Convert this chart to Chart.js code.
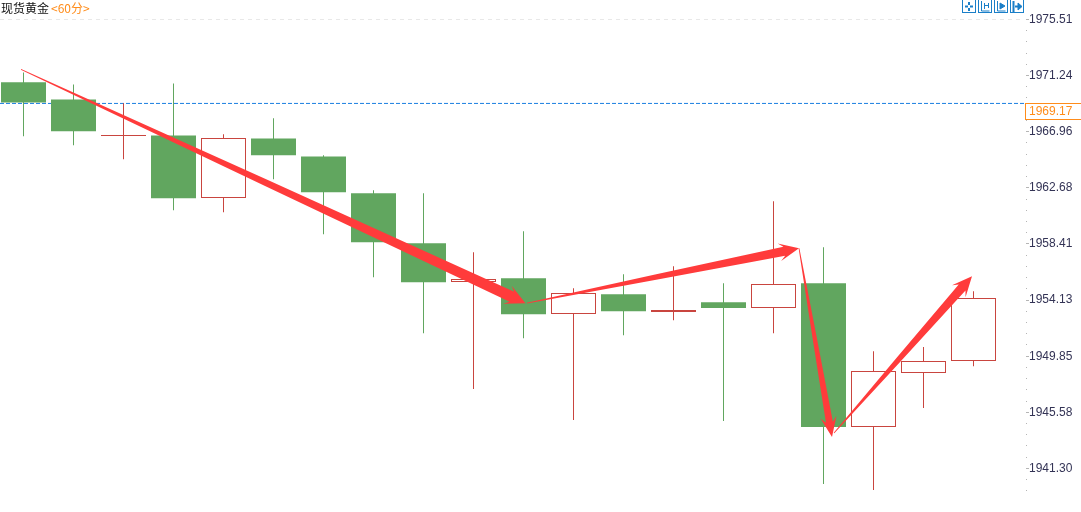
<!DOCTYPE html>
<html>
<head>
<meta charset="utf-8">
<title>现货黄金</title>
<script src="https://cdn.jsdelivr.net/npm/chart.js@4/dist/chart.umd.min.js"></script>
<style>
  html, body { margin: 0; padding: 0; background: #fff; overflow: hidden; }
  #wrap { position: relative; width: 1081px; height: 512px; }
  canvas { display: block; }
  #title { position: absolute; left: 1px; top: 0; font: 12px/15px "Noto Sans CJK SC", sans-serif; color: #111; white-space: nowrap; }
  #title span { color: #ff8c1a; margin-left: 2px; }
  #tools { position: absolute; left: 962px; top: 0; }
  #tools svg { position: absolute; top: 0; width: 14px; height: 13px; }
</style>
</head>
<body>
<div id="wrap">
  <canvas id="chart" width="1081" height="512"></canvas>
  <div id="title">现货黄金<span>&lt;60分&gt;</span></div>
  <div id="tools">
    <svg style="left:0" viewBox="0 0 14 13" fill="none" stroke="#1a7fc8"><rect x=".5" y="-.5" width="13" height="13"/><path d="M3 6.5h3M8 6.5h3M7 2v3M7 8v3" stroke-width="2"/></svg>
    <svg style="left:16px" viewBox="0 0 14 13" fill="none" stroke="#1a7fc8"><rect x=".5" y="-.5" width="13" height="13"/><path d="M3.5 1v10h8M6.5 3v6M10.5 3v5M7 5.5h3"/></svg>
    <svg style="left:32px" viewBox="0 0 14 13" fill="none" stroke="#1a7fc8"><rect x=".5" y="-.5" width="13" height="13"/><path d="M3.5 1v10h8"/><path d="M6 3l5 3-5 3z" fill="#1a7fc8"/></svg>
    <svg style="left:48px" viewBox="0 0 14 13" fill="none" stroke="#1a7fc8"><rect x=".5" y="-.5" width="13" height="13"/><path d="M3.5 1v11M5 6.5h4" stroke-width="2"/><path d="M8 3l4 3.5-4 3.5z" fill="#1a7fc8"/></svg>
  </div>
</div>
<script>
const opens  = [1970.72, 1969.42, 1966.634, 1966.68, 1961.91, 1966.45, 1965.08, 1962.27, 1958.46, 1955.51, 1955.80, 1953.072, 1954.58, 1953.224, 1953.97, 1953.529, 1955.42, 1944.462, 1948.577, 1949.491];
const closes = [1969.19, 1966.99, 1966.71, 1961.89, 1966.481, 1965.16, 1962.34, 1958.54, 1955.50, 1955.739, 1953.06, 1954.672, 1953.29, 1953.377, 1953.52, 1955.358, 1944.46, 1948.729, 1949.491, 1954.291];
const highs  = [1971.48, 1970.56, 1969.12, 1970.64, 1966.76, 1967.98, 1965.16, 1962.50, 1962.27, 1957.78, 1959.38, 1955.04, 1956.10, 1956.71, 1955.42, 1961.66, 1958.16, 1950.24, 1950.55, 1954.81];
const lows   = [1966.61, 1965.92, 1964.86, 1960.97, 1960.82, 1963.33, 1959.15, 1955.88, 1951.61, 1947.35, 1951.23, 1944.99, 1951.46, 1952.60, 1944.92, 1951.61, 1940.12, 1939.67, 1945.91, 1949.10];

const tickLabels = ['1975.51', '1971.24', '1966.96', '1962.68', '1958.41', '1954.13', '1949.85', '1945.58', '1941.30'];
const lastPrice = 1969.17;
const lastLine = 1969.115;

// hand drawn arrows on the picture: candle index / price of each end
const arrowX0 = [-0.05, 10.07, 15.51, 16.21];
const arrowY0 = [1971.71, 1953.90, 1958.08, 1944.00];
const arrowX1 = [10.04, 15.51, 16.17, 18.97];
const arrowY1 = [1953.90, 1958.08, 1943.70, 1955.95];

const GREEN = '#61a65f';
const RED = '#c9453f';
const isUp = opens.map((o, i) => closes[i] >= o);
const tickValues = tickLabels.map(Number);

function tapered(ctx, x0, y0, x1, y1, shaft, headHalf, headLen) {
  const len = Math.hypot(x1 - x0, y1 - y0);
  const ux = (x1 - x0) / len, uy = (y1 - y0) / len;
  const nx = -uy, ny = ux;
  const neck = headLen * 0.75, tail = 0.4;
  const pt = (along, off) => [x0 + ux * along + nx * off, y0 + uy * along + ny * off];
  const mid = (len - neck) / 2;
  const pts = [pt(0, tail), pt(mid, shaft * 0.6), pt(len - neck, shaft), pt(len - headLen, headHalf), [x1, y1],
               pt(len - headLen, -headHalf), pt(len - neck, -shaft), pt(mid, -shaft * 0.6), pt(0, -tail)];
  ctx.beginPath();
  pts.forEach((p, i) => i ? ctx.lineTo(p[0], p[1]) : ctx.moveTo(p[0], p[1]));
  ctx.closePath();
  ctx.fill();
}

const overlay = {
  id: 'overlay',
  afterDatasetsDraw(chart) {
    const { ctx, scales: { x, y } } = chart;
    const shafts = [5.5, 4.5, 3.5, 4.5];
    const heads = [10, 9, 8, 9];
    ctx.save();
    ctx.fillStyle = '#ff3b3b';
    arrowX0.forEach((v, i) => {
      tapered(ctx, x.getPixelForValue(v), y.getPixelForValue(arrowY0[i]),
        x.getPixelForValue(arrowX1[i]), y.getPixelForValue(arrowY1[i]), shafts[i], heads[i], 20);
    });
    ctx.restore();
  },
  afterDraw(chart) {
    const { ctx } = chart;
    ctx.save();
    ctx.fillStyle = '#fff';
    ctx.fillRect(1025.5, 103.5, 60, 16);
    ctx.strokeStyle = '#ff8c1a';
    ctx.strokeRect(1025.5, 103.5, 60, 16);
    ctx.fillStyle = '#ff8c1a';
    ctx.font = '12px "Liberation Sans"';
    ctx.textBaseline = 'middle';
    ctx.fillText(lastPrice.toFixed(2), 1029, 112);
    ctx.restore();
  }
};

new Chart(document.getElementById('chart'), {
  type: 'bar',
  plugins: [overlay],
  data: {
    datasets: [
      {
        label: 'body',
        order: 2,
        grouped: false,
        barThickness: 45,
        inflateAmount: 0,
        borderSkipped: false,
        borderWidth: ctx => isUp[ctx.dataIndex] ? 1 : 0,
        borderColor: RED,
        backgroundColor: ctx => isUp[ctx.dataIndex] ? '#fff' : GREEN,
        data: opens.map((o, i) => ({ x: i, y: [o, closes[i]] }))
      },
      {
        label: 'wick',
        order: 3,
        grouped: false,
        barThickness: 1,
        inflateAmount: 0,
        borderWidth: 0,
        backgroundColor: ctx => isUp[ctx.dataIndex] ? RED : GREEN,
        data: lows.map((l, i) => ({ x: i, y: [l, highs[i]] }))
      },
      {
        type: 'line',
        label: 'last',
        order: 4,
        borderColor: '#1a7fe0',
        borderWidth: 1,
        borderDash: [4, 2],
        pointRadius: 0,
        data: [{ x: -0.47, y: lastLine }, { x: 20.05, y: lastLine }]
      },
      {
        type: 'line',
        label: 'top',
        order: 5,
        borderColor: '#e8e8e8',
        borderWidth: 1,
        borderDash: [4, 4],
        pointRadius: 0,
        data: [{ x: -0.47, y: tickValues[0] }, { x: 19.96, y: tickValues[0] }]
      }
    ]
  },
  options: {
    responsive: false,
    animation: false,
    layout: { padding: 0 },
    plugins: { legend: { display: false }, tooltip: { enabled: false }, title: { display: false } },
    scales: {
      x: { type: 'linear', display: false, offset: false, min: -0.47, max: 20.05, grid: { display: false } },
      y: {
        position: 'right',
        min: 1937.9862,
        max: 1976.9957,
        afterFit: scale => { scale.width = 55; scale.paddingTop = 0; scale.paddingBottom = 0; },
        afterBuildTicks: scale => {
          // five small steps between the labelled prices, two more under the last one
          const list = [];
          const step = (tickValues[0] - tickValues[1]) / 5;
          tickValues.forEach(v => list.push({ value: v }));
          tickValues.forEach((v, i) => {
            const n = i === tickValues.length - 1 ? 2 : 4;
            for (let k = 1; k <= n; k++) list.push({ value: v - step * k });
          });
          scale.ticks = list.sort((a, b) => a.value - b.value);
        },
        border: { display: false },
        grid: {
          drawOnChartArea: false,
          drawTicks: true,
          tickLength: 3,
          tickColor: '#b5b5b5',
          tickBorderDash: ctx => tickValues.includes(ctx.tick.value) ? [] : [1, 6]
        },
        ticks: {
          autoSkip: false,
          maxRotation: 0,
          padding: 0,
          color: '#333355',
          font: { family: '"Liberation Sans"', size: 12 },
          callback: value => tickValues.includes(value) ? value.toFixed(2) : ''
        }
      }
    }
  }
});
</script>
</body>
</html>
